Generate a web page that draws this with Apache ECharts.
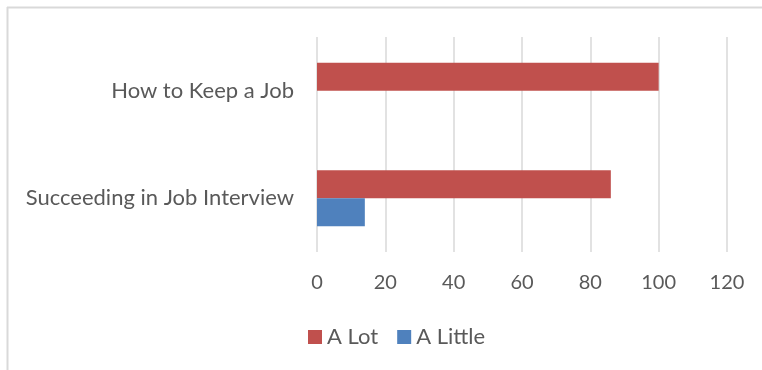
<!DOCTYPE html>
<html>
<head>
<meta charset="utf-8">
<script src="https://cdn.jsdelivr.net/npm/echarts@6/dist/echarts.min.js"></script>
<style>
  html, body { margin: 0; padding: 0; background: #ffffff; }
  #chart { width: 762px; height: 370px; }
</style>
</head>
<body>
<div id="chart"></div>
<script>
// Categories listed bottom-to-top, as the category axis draws them
const categories = ['Succeeding in Job Interview', 'How to Keep a Job'];
const aLot = [86, 100];
const aLittle = [14, 0];
const xTicks = { min: 0, max: 120, interval: 20 };
const seriesNames = ['A Lot', 'A Little'];

const textColor = '#595959';
const fontFamily = 'Lato, "Open Sans", sans-serif';

const chart = echarts.init(document.getElementById('chart'), null, { renderer: 'canvas' });

chart.setOption({
  animation: false,
  backgroundColor: '#ffffff',
  graphic: [
    // chart-area frame (left and top edges)
    { type: 'line', shape: { x1: 7.5, y1: 7, x2: 7.5, y2: 370 }, style: { stroke: '#d9d9d9', lineWidth: 2 } },
    { type: 'line', shape: { x1: 7, y1: 7.5, x2: 762, y2: 7.5 }, style: { stroke: '#d9d9d9', lineWidth: 2 } }
  ],
  grid: { left: 317, right: 35, top: 37, bottom: 118, containLabel: false },
  legend: {
    data: seriesNames,
    left: 308,
    top: 326,
    padding: 0,
    icon: 'rect',
    itemWidth: 14,
    itemHeight: 14,
    itemGap: 19,
    textStyle: { color: textColor, fontSize: 22, fontFamily: fontFamily }
  },
  xAxis: {
    type: 'value',
    min: xTicks.min,
    max: xTicks.max,
    interval: xTicks.interval,
    axisLine: { show: false },
    axisTick: { show: false },
    axisLabel: { color: textColor, fontSize: 20, fontFamily: fontFamily, margin: 21 },
    splitLine: { show: true, lineStyle: { color: '#d9d9d9', width: 1.5 } }
  },
  yAxis: {
    type: 'category',
    data: categories,
    axisLine: { show: false },
    axisTick: { show: false },
    axisLabel: { color: textColor, fontSize: 22, fontFamily: fontFamily, margin: 23 }
  },
  series: [
    {
      name: seriesNames[0],
      type: 'bar',
      data: aLot,
      barWidth: 28,
      barGap: '0%',
      itemStyle: { color: '#c0504d' }
    },
    {
      name: seriesNames[1],
      type: 'bar',
      data: aLittle,
      barWidth: 28,
      barGap: '0%',
      itemStyle: { color: '#4f81bd' }
    }
  ]
});
</script>
</body>
</html>
